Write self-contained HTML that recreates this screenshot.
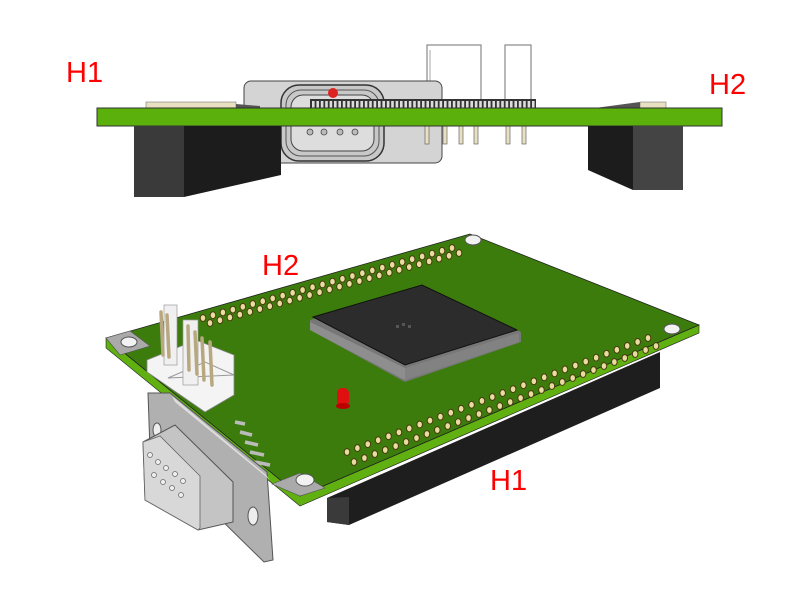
<!DOCTYPE html>
<html><head><meta charset="utf-8"><style>
html,body{margin:0;padding:0;background:#fff;width:800px;height:600px;overflow:hidden}
.lbl{font-family:"Liberation Sans","DejaVu Sans",sans-serif;font-size:29px;fill:#f00}
</style></head><body>
<svg id="s" width="800" height="600" viewBox="0 0 800 600" xmlns="http://www.w3.org/2000/svg">
<rect x="427" y="45" width="54" height="68" fill="#fff" stroke="#888" stroke-width="1.2"/>
<line x1="430" y1="50" x2="430" y2="112" stroke="#aaa"/>
<rect x="505" y="45" width="26" height="68" fill="#fff" stroke="#888" stroke-width="1.2"/>
<rect x="244" y="81" width="198" height="82" rx="7" fill="#d4d4d4" stroke="#444" stroke-width="1"/>
<rect x="281" y="85" width="103" height="76" rx="18" fill="#c8c8c8" stroke="#333" stroke-width="1.5"/>
<rect x="286" y="90" width="93" height="66" rx="15" fill="none" stroke="#555" stroke-width="1"/>
<rect x="291" y="95" width="83" height="56" rx="12" fill="#ddd" stroke="#444" stroke-width="1"/>
<circle cx="333" cy="93" r="5" fill="#d22"/>
<g fill="#bbb" stroke="#444" stroke-width="0.8">
<circle cx="310" cy="132" r="3"/><circle cx="324" cy="132" r="3"/><circle cx="340" cy="132" r="3"/><circle cx="355" cy="132" r="3"/>
</g>
<rect x="310" y="99" width="226" height="12" fill="#333"/>
<g id="hrow"></g>
<g fill="#e8e0c0" stroke="#666" stroke-width="0.7">
<rect x="425" y="126" width="4" height="18"/><rect x="443" y="126" width="4" height="18"/><rect x="459" y="126" width="4" height="18"/><rect x="474" y="126" width="4" height="18"/><rect x="506" y="126" width="4" height="18"/><rect x="522" y="126" width="4" height="18"/>
</g>
<rect x="146" y="102" width="90" height="7" fill="#e8e0c0" stroke="#777" stroke-width="0.6"/>
<polygon points="236,104 260,106 260,109 236,109" fill="#555"/>
<rect x="640" y="102" width="26" height="7" fill="#e8e0c0" stroke="#777" stroke-width="0.6"/>
<polygon points="595,108 640,102 640,109" fill="#555"/>
<rect x="97" y="108" width="625" height="18" fill="#5cb00c" stroke="#333" stroke-width="1"/>
<rect x="134" y="126" width="50" height="64" fill="#3a3a3a"/>
<polygon points="184,126 281,126 281,175 184,197" fill="#1c1c1c"/>
<polygon points="134,190 184,190 184,197 134,197" fill="#3a3a3a"/>
<polygon points="588,126 633,126 633,190 588,170" fill="#1c1c1c"/>
<rect x="633" y="126" width="50" height="64" fill="#444"/>
<text x="66" y="82" class="lbl">H1</text>
<text x="709" y="94" class="lbl">H2</text>

<polygon points="327,498 660,352 660,388 349,525 327,522" fill="#1e1e1e"/>
<polygon points="327,498 349,497 349,525 327,522" fill="#3a3a3a"/>
<polygon points="106,338 300,496 699,325 699,333 300,506 106,348" fill="#5fb010" stroke="#222" stroke-width="0.6"/>
<polygon points="106,338 470,234 699,325 300,496" fill="#3c7c0c" stroke="#222" stroke-width="0.8"/>
<g fill="#aaa" stroke="#555" stroke-width="0.6">
<polygon points="106,338 130,331 150,346 120,355"/>
<polygon points="272,484 300,473 325,488 300,496"/>
</g>
<g fill="#f2f2f2" stroke="#555" stroke-width="1">
<ellipse cx="129" cy="342" rx="8" ry="5"/><ellipse cx="305" cy="480" rx="9" ry="6"/>
<ellipse cx="473" cy="240" rx="8" ry="5"/><ellipse cx="672" cy="329" rx="8" ry="5"/>
</g>
<g id="pins"></g>
<polygon points="310,320 422,285 521,332 521,342 405,382 310,330" fill="#777"/>
<polygon points="313,317 422,285 517,330 405,365" fill="#2c2c2c" stroke="#111" stroke-width="1"/>
<polygon points="310,322 405,368 405,380 310,330" fill="#999" opacity="0.7"/>
<polygon points="405,368 519,333 519,342 405,380" fill="#888" opacity="0.7"/>
<g fill="#555"><rect x="396" y="325" width="3" height="3"/><rect x="402" y="323" width="3" height="3"/><rect x="408" y="325" width="3" height="3"/></g>
<rect x="337" y="388" width="12" height="18" rx="5" fill="#e01010"/>
<ellipse cx="343" cy="406" rx="7" ry="3" fill="#b00"/>
<polygon points="147,360 196,340 234,355 234,395 205,412 147,372" fill="#f4f4f4" stroke="#888" stroke-width="0.8"/>
<polygon points="168,378 205,362 234,375" fill="none" stroke="#999"/>
<rect x="164" y="305" width="13" height="60" fill="#f0f0f0" stroke="#999" stroke-width="0.7"/>
<rect x="183" y="320" width="15" height="65" fill="#f0f0f0" stroke="#999" stroke-width="0.7"/>
<g stroke="#b8a880" stroke-width="3.5" stroke-linecap="round">
<line x1="161" y1="312" x2="163" y2="355"/><line x1="167" y1="315" x2="169" y2="357"/>
<line x1="188" y1="326" x2="189" y2="370"/><line x1="195" y1="332" x2="197" y2="374"/><line x1="202" y1="338" x2="204" y2="380"/><line x1="210" y1="342" x2="212" y2="385"/>
</g>
<g stroke="#bbb" stroke-width="3.5"><line x1="235" y1="422" x2="245" y2="424"/><line x1="240" y1="432" x2="252" y2="435"/><line x1="245" y1="442" x2="258" y2="445"/><line x1="250" y1="452" x2="264" y2="455"/><line x1="255" y1="462" x2="270" y2="465"/></g>
<polygon points="148,393 170,393 267,472 273,560 264,562 150,450" fill="#b0b0b0" stroke="#555" stroke-width="1"/>
<polygon points="172,396 266,475 270,480 175,402" fill="#ddd"/>
<ellipse cx="157" cy="430" rx="4" ry="7" fill="#eee" stroke="#555"/>
<ellipse cx="253" cy="516" rx="5" ry="9" fill="#eee" stroke="#555"/>
<polygon points="143,442 175,425 233,482 233,522 198,530 145,500" fill="#c4c4c4" stroke="#555" stroke-width="1"/>
<polygon points="143,442 160,436 200,476 200,528 198,530 145,500" fill="#d8d8d8" stroke="#666" stroke-width="0.8"/>
<g fill="#eee" stroke="#666" stroke-width="0.7">
<circle cx="150" cy="455" r="2.5"/><circle cx="158" cy="462" r="2.5"/><circle cx="166" cy="468" r="2.5"/><circle cx="175" cy="474" r="2.5"/><circle cx="183" cy="481" r="2.5"/>
<circle cx="154" cy="475" r="2.5"/><circle cx="163" cy="482" r="2.5"/><circle cx="172" cy="488" r="2.5"/><circle cx="181" cy="495" r="2.5"/>
</g>
<text x="262" y="275" class="lbl">H2</text>
<text x="490" y="490" class="lbl">H1</text>
</svg>
<script>
var ns="http://www.w3.org/2000/svg";
var hr=document.getElementById("hrow");
for(var x=312;x<534;x+=4.4){var r=document.createElementNS(ns,"rect");r.setAttribute("x",x);r.setAttribute("y",101);r.setAttribute("width",2.6);r.setAttribute("height",9);r.setAttribute("fill","#ddd");hr.appendChild(r);}
var g=document.getElementById("pins");
function row(x1,y1,x2,y2,n){for(var i=0;i<n;i++){var t=i/(n-1);var c=document.createElementNS(ns,"ellipse");c.setAttribute("cx",x1+(x2-x1)*t);c.setAttribute("cy",y1+(y2-y1)*t);c.setAttribute("rx",2.8);c.setAttribute("ry",3.4);c.setAttribute("fill","#e8dca0");c.setAttribute("stroke","#4a3a10");c.setAttribute("stroke-width","1");g.appendChild(c);}}
row(203,318,452,248,26);row(210,323,459,253,26);
row(347,452,648,338,30);row(354,462,656,346,30);
</script>
</body></html>
